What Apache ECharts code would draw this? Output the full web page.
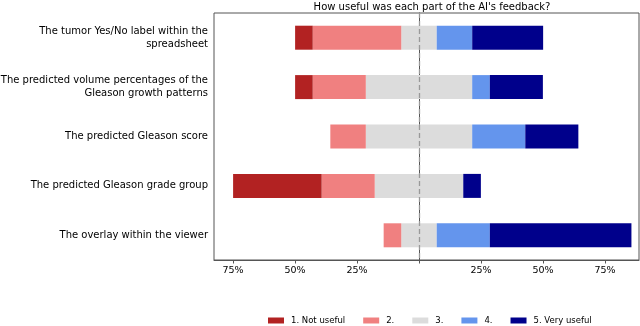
<!DOCTYPE html>
<html lang="en">
<head>
    <meta charset="UTF-8">
    <title>How useful was each part of the AI's feedback?</title>
    <script src="https://cdn.jsdelivr.net/npm/echarts@6.0.0/dist/echarts.min.js"></script>
    <style>
        body { margin: 0; background: #fff; }
    </style>
</head>
<body>
    <div id="main" style="width: 640px; height: 326px;"></div>

    <script type="text/javascript">
        // Questions, top to bottom
        const categories = [
            'The tumor Yes/No label within the\nspreadsheet',
            'The predicted volume percentages of the\nGleason growth patterns',
            'The predicted Gleason score',
            'The predicted Gleason grade group',
            'The overlay within the viewer'
        ];

        // Share of answers (%) per level
        const notUseful = [7.1, 7.1, 0, 35.7, 0];
        const level2 = [35.7, 21.4, 14.3, 21.4, 7.1];
        const level3 = [14.3, 42.9, 42.9, 35.7, 14.3];
        const level4 = [14.3, 7.1, 21.4, 0, 21.4];
        const veryUseful = [28.6, 21.4, 21.4, 7.1, 57.1];

        const tickValues = [-75, -50, -25, 0, 25, 50, 75];

        const legendNames = ['1. Not useful', '2.', '3.', '4.', '5. Very useful'];
        const colors = ['#B22222', '#F08080', '#DCDCDC', '#6495ED', '#00008B'];

        const font = 'DejaVu Sans';
        let myChart = echarts.init(document.getElementById('main'));

        function bar(name, data, color, extra) {
            return Object.assign({
                name: name,
                type: 'bar',
                stack: 'total',
                barWidth: 24,
                data: data,
                itemStyle: { color: color },
                silent: true
            }, extra || {});
        }

        // neutral answers are split half left, half right of zero
        let series = [
            bar('3.', level3.map(v => -v / 2), colors[2]),
            bar('2.', level2.map(v => -v), colors[1]),
            bar('1. Not useful', notUseful.map(v => -v), colors[0]),
            bar('3.', level3.map(v => v / 2), colors[2], {
                markLine: {
                    silent: true,
                    symbol: 'none',
                    label: { show: false },
                    lineStyle: { color: '#999', type: [5, 3], width: 1.3 },
                    data: [{ xAxis: 0 }]
                }
            }),
            bar('4.', level4, colors[3]),
            bar('5. Very useful', veryUseful, colors[4])
        ];

        let options = {
            animation: false,
            title: {
                text: "How useful was each part of the AI's feedback?",
                left: 427,
                textAlign: 'center',
                top: -3,
                textStyle: { fontFamily: font, fontSize: 10, fontWeight: 'normal', color: '#000' }
            },
            legend: {
                data: legendNames,
                left: 263,
                top: 311,
                icon: 'rect',
                itemWidth: 16,
                itemHeight: 6,
                itemGap: 18,
                textStyle: { fontFamily: font, fontSize: 8.5, color: '#000', padding: [0, 0, 0, 2] }
            },
            grid: {
                left: 214,
                right: 1,
                top: 13,
                bottom: 66,
                outerBoundsMode: 'none',
                show: true,
                borderColor: '#555',
                borderWidth: 1
            },
            xAxis: {
                type: 'value',
                min: -82.65,
                max: 88.7,
                splitLine: { show: false },
                axisLine: { show: true, lineStyle: { color: '#555' } },
                axisTick: {
                    show: true,
                    length: 3.5,
                    customValues: tickValues,
                    lineStyle: { color: '#555' }
                },
                axisLabel: {
                    customValues: tickValues,
                    margin: 6,
                    fontFamily: font,
                    fontSize: 9.5,
                    color: '#000',
                    formatter: v => v === 0 ? '' : Math.abs(v) + '%'
                }
            },
            yAxis: {
                type: 'category',
                inverse: true,
                data: categories,
                axisLine: { show: true, lineStyle: { color: '#555' } },
                axisTick: { show: true, alignWithLabel: true, length: 3.5, lineStyle: { color: '#555' } },
                axisLabel: {
                    margin: 6,
                    fontFamily: font,
                    fontSize: 10,
                    lineHeight: 13,
                    color: '#000',
                    align: 'right'
                }
            },
            series: series
        };

        myChart.setOption(options);

        window.addEventListener('resize', () => {
            myChart.resize();
        });
    </script>
</body>
</html>
